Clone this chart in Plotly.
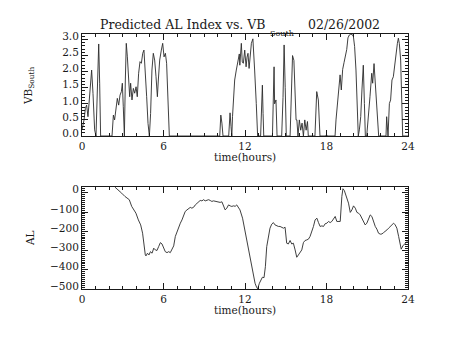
import plotly.graph_objects as go

# VB_South (mV/m) sampled through the day, hours UT
vb_hours = [
    0.00, 0.15, 0.25, 0.34, 0.44, 0.54, 0.64, 0.71, 0.81, 0.93, 1.03, 1.10, 1.18, 1.23, 1.30, 1.37,
    2.21, 2.31, 2.40, 2.50, 2.60, 2.70, 2.80, 2.90, 2.97, 3.04, 3.12, 3.19, 3.26, 3.34, 3.44, 3.51,
    3.58, 3.68, 3.78, 3.88, 3.98, 4.07, 4.17, 4.27, 4.37, 4.47, 4.56, 4.66, 4.76, 4.86, 4.96, 5.05,
    5.15, 5.25, 5.35, 5.45, 5.55, 5.62, 5.72, 5.84, 5.94, 6.04, 6.14, 6.23, 6.33, 6.43,
    10.14, 10.22, 10.30, 10.38, 10.80, 10.90, 10.97, 11.03, 11.08, 11.14, 11.24, 11.36, 11.48, 11.58,
    11.62, 11.73, 11.80, 11.88, 11.98, 12.08, 12.15, 12.22, 12.30, 12.36, 12.47, 12.58, 12.64, 12.71,
    12.83, 12.93, 13.15, 13.22, 13.28, 13.33, 13.38, 14.02, 14.10, 14.14, 14.18, 14.28, 14.36,
    14.70, 14.80, 14.88, 14.96, 15.04, 15.32, 15.40, 15.50, 15.60, 15.68, 15.76, 15.82, 15.90,
    16.00, 16.10, 16.20, 16.30, 16.40, 16.50, 16.60, 16.66, 17.15, 17.28, 17.40, 17.52,
    17.95, 18.00, 18.05, 18.63, 18.70, 18.80, 18.90, 19.00, 19.09, 19.19, 19.29, 19.39, 19.49,
    19.58, 19.68, 19.78, 19.88, 19.98, 20.07, 20.17, 20.27, 20.34, 20.42, 20.52, 20.61, 20.71,
    20.79, 20.86, 20.96, 21.08, 21.20, 21.33, 21.40, 21.50, 21.57, 21.64, 21.74, 21.84,
    22.38, 22.43, 22.53, 22.63, 22.72, 22.82, 22.92, 23.02, 23.12, 23.22, 23.29, 23.36, 23.46,
    23.53, 23.61, 24.00,
]
vb_south = [
    0.19, 0.50, 0.86, 0.96, 0.60, 1.12, 1.74, 2.05, 1.32, 0.19, 0.00, 1.22, 2.46, 2.86, 1.64, 0.00,
    0.00, 0.65, 0.50, 0.81, 1.17, 0.96, 1.27, 1.38, 1.64, 0.91, 0.00, 1.74, 2.88, 2.46, 1.74, 1.22,
    1.64, 1.12, 1.48, 1.33, 1.53, 1.22, 1.95, 2.31, 2.26, 2.57, 2.67, 2.05, 1.22, 0.39, 0.00, 0.70,
    2.05, 2.57, 2.36, 1.84, 1.22, 1.74, 2.36, 2.67, 2.88, 2.46, 2.57, 2.26, 1.33, 0.00,
    0.00, 0.65, 0.40, 0.00, 0.00, 0.72, 0.30, 0.00, 0.60, 1.22, 1.74, 2.05, 2.31, 2.55,
    2.20, 2.88, 2.30, 2.26, 2.67, 2.15, 2.45, 2.57, 2.10, 2.31, 2.88, 3.02, 2.70, 2.05,
    1.01, 0.00, 0.00, 0.80, 1.58, 0.70, 0.00, 0.00, 1.20, 2.15, 1.00, 1.12, 0.00,
    0.00, 1.20, 2.83, 1.50, 0.00, 0.00, 1.50, 2.50, 2.35, 1.55, 0.50, 0.50, 0.00,
    0.50, 0.18, 0.40, 0.00, 0.50, 0.18, 0.45, 0.00, 0.00, 1.38, 1.12, 0.00,
    0.00, 0.05, 0.00, 0.00, 0.50, 1.02, 1.64, 1.90, 1.43, 2.07, 2.28, 2.48, 2.69,
    3.05, 3.14, 3.16, 3.16, 3.09, 2.78, 2.05, 1.01, 0.00, 0.19, 0.60, 1.43, 2.20,
    1.01, 0.00, 0.00, 0.50, 1.22, 1.95, 1.64, 2.25, 1.74, 1.12, 0.50, 0.00,
    0.00, 0.60, 0.00, 1.01, 1.12, 1.74, 1.84, 2.25, 2.67, 2.88, 3.04, 2.88, 2.36,
    1.01, 0.00, 0.00,
]

# Predicted AL index (nT)
al_hours = [
    2.43, 2.67, 2.92, 3.16, 3.34, 3.48, 3.66, 3.78, 3.97, 4.15, 4.32, 4.46, 4.56, 4.66, 4.71,
    4.82, 4.93, 5.04, 5.16, 5.28, 5.40, 5.52, 5.64, 5.77, 5.89, 6.01, 6.13, 6.26, 6.38, 6.50,
    6.62, 6.75, 6.87, 6.99, 7.11, 7.24, 7.36, 7.48, 7.60, 7.73, 7.85, 7.97, 8.09, 8.22, 8.34,
    8.46, 8.58, 8.70, 8.83, 8.95, 9.07, 9.19, 9.32, 9.44, 9.56, 9.68, 9.81, 9.93, 10.05, 10.17,
    10.30, 10.42, 10.54, 10.66, 10.79, 10.91, 11.03, 11.14, 11.28, 11.39, 11.52, 11.63, 11.82,
    12.00, 12.17, 12.32, 12.49, 12.61, 12.74, 12.86, 12.93, 13.06, 13.16, 13.28, 13.40, 13.50,
    13.60, 13.72, 13.84, 13.97, 14.09, 14.21, 14.33, 14.46, 14.58, 14.70, 14.83, 14.95, 15.07,
    15.19, 15.32, 15.44, 15.56, 15.69, 15.81, 15.93, 16.06, 16.18, 16.30, 16.42, 16.55, 16.67,
    16.79, 16.92, 17.04, 17.16, 17.29, 17.41, 17.53, 17.66, 17.78, 17.90, 18.03, 18.15, 18.27,
    18.39, 18.52, 18.64, 18.76, 18.88, 19.01, 19.13, 19.21, 19.31, 19.45, 19.62, 19.75, 19.87,
    19.99, 20.12, 20.24, 20.36, 20.48, 20.61, 20.73, 20.85, 20.97, 21.10, 21.22, 21.34, 21.47,
    21.59, 21.71, 21.83, 21.96, 22.08, 22.20, 22.33, 22.45, 22.57, 22.69, 22.82, 22.94, 23.06,
    23.18, 23.31, 23.43, 23.50, 23.62, 23.80, 23.93, 24.00,
]
al_index = [
    29, 16, -2, -19, -28, -36, -71, -85, -106, -141, -167, -210, -280, -323, -328,
    -314, -323, -306, -314, -288, -297, -300, -280, -259, -266, -288, -306, -311, -306, -311,
    -297, -276, -227, -201, -175, -158, -141, -115, -97, -89, -80, -76, -80, -75, -63,
    -54, -45, -40, -42, -36, -42, -40, -36, -40, -45, -42, -45, -47, -50, -50,
    -47, -71, -89, -80, -63, -68, -71, -68, -70, -63, -75, -89, -132,
    -201, -262, -323, -375, -436, -470, -492, -499, -470, -453, -439, -441, -384,
    -280, -227, -184, -163, -155, -167, -172, -175, -175, -179, -184, -179, -262,
    -266, -248, -266, -262, -297, -335, -323, -306, -297, -259, -248, -245, -241,
    -227, -201, -175, -141, -132, -155, -175, -172, -175, -161, -158, -149, -155,
    -149, -137, -123, -149, -149, -149, -19, 21, 12, -19, -54, -102, -89,
    -68, -80, -102, -106, -115, -132, -149, -167, -158, -137, -115, -123, -158,
    -175, -189, -210, -215, -214, -207, -201, -193, -184, -175, -167, -158, -167,
    -184, -227, -262, -293, -276, -262, -253, -258,
]

x_ticks = [0, 6, 12, 18, 24]
vb_ticks = [0.0, 0.5, 1.0, 1.5, 2.0, 2.5, 3.0]
al_ticks = [0, -100, -200, -300, -400, -500]

W, H = 454, 341
FONT = "DejaVu Serif"
INK = "#1a1a1a"

fig = go.Figure()
fig.add_trace(go.Scatter(x=vb_hours, y=vb_south, mode="lines",
                         line=dict(color="#2a2a2a", width=0.9), xaxis="x", yaxis="y"))
fig.add_trace(go.Scatter(x=al_hours, y=al_index, mode="lines",
                         line=dict(color="#2a2a2a", width=0.9), xaxis="x2", yaxis="y2"))

xdom = [82 / W, 408 / W]
common_x = dict(range=[0, 24], tickvals=x_ticks, ticktext=[str(t) for t in x_ticks],
                showgrid=False, zeroline=False, showline=True, linecolor=INK, linewidth=1,
                mirror="ticks", ticks="inside", ticklen=6, tickcolor=INK,
                minor=dict(dtick=1, ticklen=3, ticks="inside", tickcolor=INK),
                tickfont=dict(family=FONT, size=10.5, color=INK), automargin=False,
                domain=xdom)
common_y = dict(showgrid=False, zeroline=False, showline=True, linecolor=INK, linewidth=1,
                mirror="ticks", ticks="inside", ticklen=6, tickcolor=INK,
                tickfont=dict(family=FONT, size=10.5, color=INK), automargin=False,
                ticklabelshift=-3)

fig.update_layout(
    width=W, height=H, margin=dict(l=0, r=0, t=0, b=0),
    paper_bgcolor="white", plot_bgcolor="white", showlegend=False,
    xaxis=dict(common_x, anchor="y"),
    xaxis2=dict(common_x, anchor="y2"),
    yaxis=dict(common_y, range=[0, 3.17], tickvals=vb_ticks,
               ticktext=[f"{v:.1f}" for v in vb_ticks],
               minor=dict(dtick=0.1, ticklen=3, ticks="inside", tickcolor=INK),
               domain=[1 - 136 / H, 1 - 34 / H], anchor="x"),
    yaxis2=dict(common_y, range=[-500, 30], tickvals=al_ticks,
                ticktext=[str(v).replace("-", "\u2212") for v in al_ticks],
                minor=dict(dtick=10, ticklen=3, ticks="inside", tickcolor=INK),
                domain=[1 - 289 / H, 1 - 187 / H], anchor="x2"),
)

ann = dict(xref="paper", yref="paper", showarrow=False, xanchor="center", yanchor="middle")
# title, with the deep subscript written as its own piece
fig.add_annotation(ann, x=268 / W, y=1 - 24 / H, xanchor="right",
                   text="Predicted AL Index vs. VB",
                   font=dict(family=FONT, size=12.5, color=INK))
fig.add_annotation(ann, x=268 / W, y=1 - 33 / H, xanchor="left", text="South",
                   font=dict(family=FONT, size=8, color=INK))
fig.add_annotation(ann, x=306 / W, y=1 - 24 / H, xanchor="left", text="02/26/2002",
                   font=dict(family=FONT, size=12.5, color=INK))
fig.add_annotation(ann, x=245 / W, y=1 - 157 / H, text="time(hours)",
                   font=dict(family=FONT, size=10.5, color=INK))
fig.add_annotation(ann, x=245 / W, y=1 - 310 / H, text="time(hours)",
                   font=dict(family=FONT, size=10.5, color=INK))
fig.add_annotation(ann, x=29 / W, y=1 - 86 / H, text="VB<sub>South</sub>", textangle=-90,
                   font=dict(family=FONT, size=10.5, color=INK))
fig.add_annotation(ann, x=30 / W, y=1 - 238 / H, text="AL", textangle=-90,
                   font=dict(family=FONT, size=10.5, color=INK))

fig.write_html("out.html")
